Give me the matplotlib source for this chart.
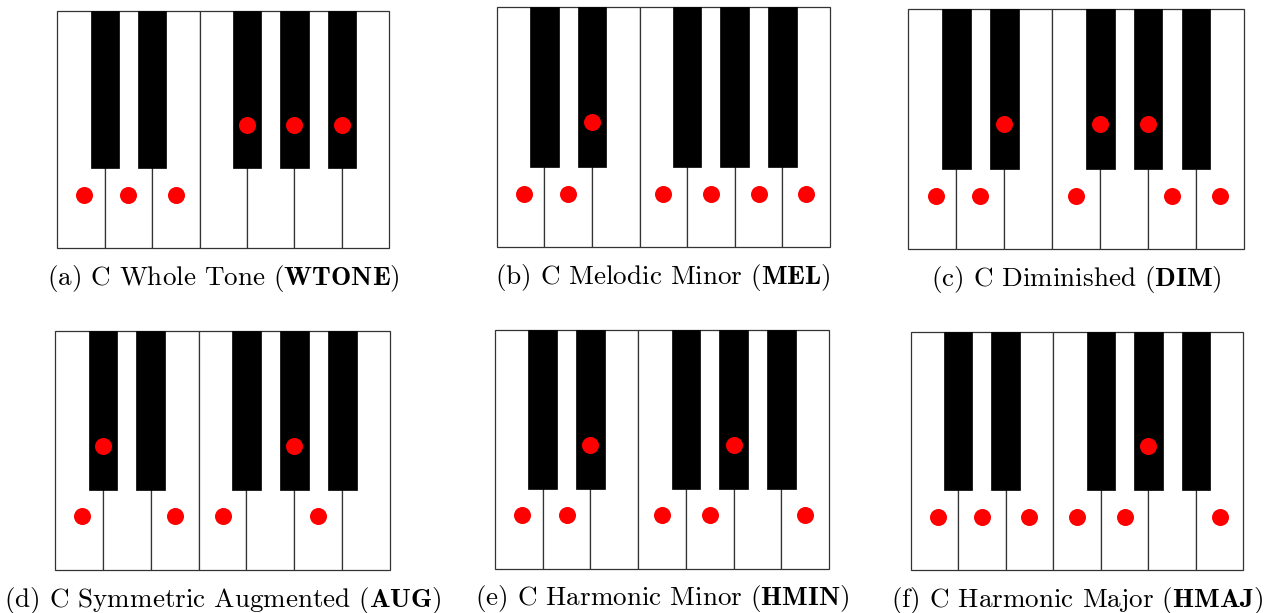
import matplotlib
matplotlib.use('Agg')
import matplotlib.pyplot as plt
from matplotlib.patches import Rectangle

plt.rcParams['font.family'] = 'cmr10'
plt.rcParams['mathtext.fontset'] = 'cm'
plt.rcParams['axes.unicode_minus'] = False

# keyboard: one octave, C..B
white_notes = ['C', 'D', 'E', 'F', 'G', 'A', 'B']
black_notes = ['C#', 'D#', 'F#', 'G#', 'A#']
black_pos = [1, 2, 4, 5, 6]  # boundary between white keys

letters = ['a', 'b', 'c', 'd', 'e', 'f']
scale_names = ['C Whole Tone', 'C Melodic Minor', 'C Diminished',
               'C Symmetric Augmented', 'C Harmonic Minor', 'C Harmonic Major']
scale_codes = ['WTONE', 'MEL', 'DIM', 'AUG', 'HMIN', 'HMAJ']
scale_notes = [
    ['C', 'D', 'E', 'F#', 'G#', 'A#'],
    ['C', 'D', 'D#', 'F', 'G', 'A', 'B'],
    ['C', 'D', 'D#', 'F', 'F#', 'G#', 'A', 'B'],
    ['C', 'C#', 'E', 'F', 'G#', 'A'],
    ['C', 'D', 'D#', 'F', 'G', 'G#', 'B'],
    ['C', 'D', 'E', 'F', 'G', 'G#', 'B'],
]

W, H = 1276, 613
# panel boxes in pixels: left, top, right, bottom
boxes = [
    (57.3, 10.7, 389.3, 248.3),
    (496.7, 7.3, 830.0, 247.3),
    (908.3, 9.3, 1244.0, 249.3),
    (55.0, 331.0, 390.0, 570.0),
    (495.0, 330.0, 829.0, 569.0),
    (910.7, 332.3, 1243.3, 570.0),
]

KEY_H = 5.0
BLACK_BOTTOM = 1.68
BLACK_W = 0.6
WHITE_DOT_Y = 1.12
BLACK_DOT_Y = 2.6

fig = plt.figure(figsize=(W / 100, H / 100), dpi=100)

for k in range(6):
    l, t, r, b = boxes[k]
    ax = fig.add_axes([l / W, 1 - b / H, (r - l) / W, (b - t) / H])
    ax.set_xlim(0, 7)
    ax.set_ylim(0, KEY_H)
    ax.axis('off')

    for i, n in enumerate(white_notes):
        ax.add_patch(Rectangle((i, 0), 1, KEY_H, facecolor='white',
                               edgecolor='#333333', linewidth=0.9, clip_on=False, zorder=1))
    for n, p in zip(black_notes, black_pos):
        ax.add_patch(Rectangle((p - BLACK_W / 2, BLACK_BOTTOM), BLACK_W, KEY_H - BLACK_BOTTOM,
                               facecolor='black', edgecolor='black', linewidth=0.5,
                               clip_on=False, zorder=2))

    xs, ys = [], []
    for n in scale_notes[k]:
        if n in white_notes:
            i = white_notes.index(n)
            xs.append(i + (0.57 if n == 'C' else 0.5))
            ys.append(WHITE_DOT_Y)
        else:
            xs.append(black_pos[black_notes.index(n)])
            ys.append(BLACK_DOT_Y)
    ax.scatter(xs, ys, s=150, color='#ff0000', linewidths=0, zorder=3, clip_on=False)

    cx = (l + r) / 2
    cy = b + 30
    fig.text(cx / W, 1 - cy / H,
             '(%s) %s ($\\mathbf{%s}$)' % (letters[k], scale_names[k], scale_codes[k]),
             ha='center', va='center', fontsize=19.5)

fig.savefig('out.png', dpi=100)
